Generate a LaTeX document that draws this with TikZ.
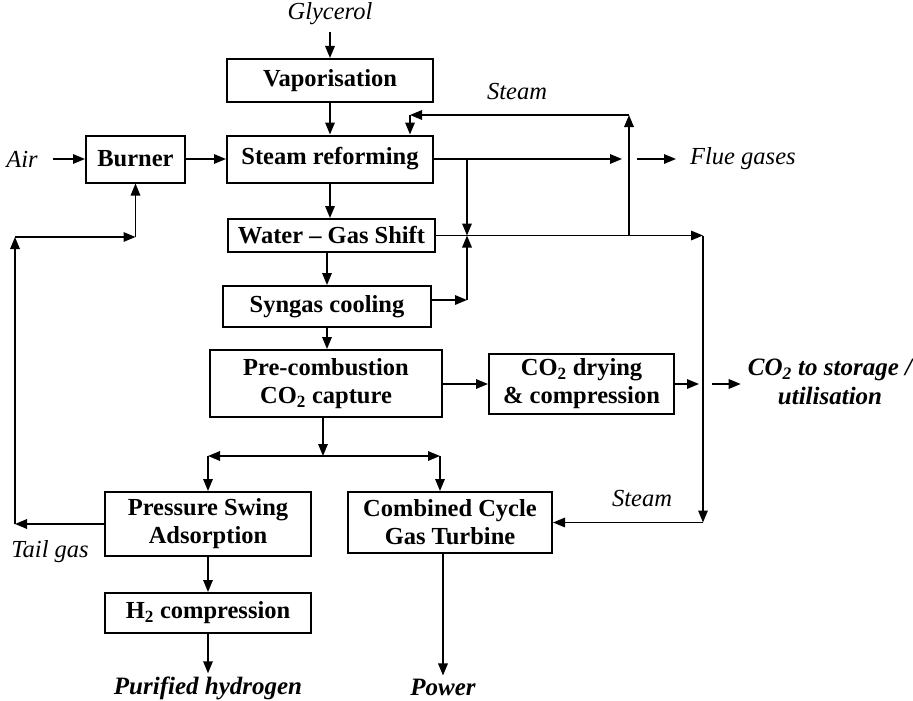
\documentclass[tikz,border=0pt]{standalone}
\usepackage{fontspec}
\setmainfont{Liberation Serif}
\usetikzlibrary{arrows.meta}

\begin{document}
\begin{tikzpicture}[x=1pt,y=-1pt]

        % 定义样式
        \tikzstyle{process} = [rectangle, draw=black, line width=2pt, text centered, align=center, inner sep=3pt, font=\fontsize{24.5}{28}\selectfont\bfseries]
        \tikzstyle{stream} = [inner sep=3pt, font=\fontsize{24.5}{28}\selectfont\itshape]
        \tikzstyle{product} = [inner sep=3pt, align=center, font=\fontsize{25}{29}\selectfont\bfseries\itshape]
        \tikzstyle{arrow} = [line width=1.6pt,->,>={Triangle[length=12pt,width=9.5pt]}]

        \useasboundingbox (0,0) rectangle (913,701);

        % 创建节点
        \node (vap) [process, minimum width=206pt, minimum height=43pt] at (330,80.5) {Vaporisation};
        \node (reform) [process, minimum width=206pt, minimum height=47pt] at (330,159) {Steam reforming};
        \node (burner) [process, minimum width=99pt, minimum height=47pt] at (135.5,159) {Burner};
        \node (wgs) [process, minimum width=207pt, minimum height=33pt] at (331.5,235.5) {Water -- Gas Shift};
        \node (syngas) [process, minimum width=208pt, minimum height=41pt] at (327,306.5) {Syngas cooling};
        \node (capture) [process, minimum width=232pt, minimum height=67pt] at (326,383.5) {Pre-combustion\\CO\textsubscript{2} capture};
        \node (drying) [process, minimum width=185pt, minimum height=60pt] at (581.5,384) {CO\textsubscript{2} drying\\\& compression};
        \node (psa) [process, minimum width=206pt, minimum height=64pt] at (208,524) {Pressure Swing\\Adsorption};
        \node (comp) [process, minimum width=206pt, minimum height=40pt] at (208,613) {H\textsubscript{2} compression};
        \node (ccgt) [process, minimum width=204pt, minimum height=61pt] at (450,522.5) {Combined Cycle\\Gas Turbine};

        % 物流标签
        \node (glycerol) [stream] at (330,14) {Glycerol};
        \node (air) [stream] at (22,159) {Air};
        \node (steamtop) [stream] at (517,92) {Steam};
        \node (flue) [stream, anchor=west] at (687,159) {Flue gases};
        \node (steamccgt) [stream] at (642,499) {Steam};
        \node (tailgas) [stream] at (50,552) {Tail gas};
        \node (storage) [product] at (830,382) {CO\textsubscript{2} to storage /\\utilisation};
        \node (hydrogen) [product] at (208,688) {Purified hydrogen};
        \node (power) [product] at (443,687) {Power};

        % 管线拐点
        \coordinate (s0) at (629,235.5);
        \coordinate (s1) at (629,115);
        \coordinate (s2) at (410,115);
        \coordinate (f1) at (622,159);
        \coordinate (f2) at (637,159);
        \coordinate (b1) at (467,159);
        \coordinate (b2) at (467,235.5);
        \coordinate (c1) at (467,300);
        \coordinate (w1) at (703,235.5);
        \coordinate (w2) at (703,522.5);
        \coordinate (e1) at (699,384);
        \coordinate (e2) at (712,384);
        \coordinate (sp) at (323,456);
        \coordinate (spl) at (208,456);
        \coordinate (spr) at (440,456);
        \coordinate (t1) at (15,524);
        \coordinate (t2) at (15,237);
        \coordinate (t3) at (135.5,237);

        % 连接节点
        \draw [arrow, shorten <=4pt] (glycerol.south) -- (vap.north);
        \draw [arrow] (vap) -- (reform);
        \draw [arrow] ([xshift=12pt]air.east) -- (burner.west);
        \draw [arrow] (burner) -- (reform);
        \draw [arrow] (reform) -- (reform |- wgs.north);
        \draw [arrow] (syngas.north |- wgs.south) -- (syngas.north);
        \draw [arrow] (syngas.south -| syngas.north) -- (syngas.south |- capture.north);

        % 蒸汽回路
        \draw [arrow] (s0) -- (s1);
        \draw [arrow] (s1) -- (s2);
        \draw [arrow] (s2) -- (s2 |- reform.north);

        % 烟气
        \draw [arrow] (reform.east) -- (f1);
        \draw [arrow] (f2) -- ([xshift=-11pt]flue.west);
        \draw [arrow] (b1) -- (b2);
        \draw [arrow] (syngas.east |- c1) -- (c1);
        \draw [arrow] (c1) -- (b2);

        % 变换气去联合循环
        \draw [arrow] (wgs.east) -- (w1);
        \draw [arrow] (w1) -- (w2);
        \draw [arrow] (w2) -- (ccgt.east);

        % CO2 去向
        \draw [arrow] (capture.east |- drying.west) -- (drying.west);
        \draw [arrow] (drying.east) -- (e1);
        \draw [arrow, shorten >=4pt] (e2) -- (e2 -| storage.west);

        % 分流
        \draw [arrow] (sp |- capture.south) -- (sp);
        \draw [arrow] (sp) -- (spl);
        \draw [arrow] (sp) -- (spr);
        \draw [arrow] (spl) -- (psa.north);
        \draw [arrow] (spr) -- (spr |- ccgt.north);

        % 尾气回烧嘴
        \draw [arrow] (psa.west) -- (t1);
        \draw [arrow] (t1) -- (t2);
        \draw [arrow] (t2) -- (t3);
        \draw [arrow] (t3) -- (burner.south);

        % 产品
        \draw [arrow] (psa) -- (comp);
        \draw [arrow] (comp) -- (hydrogen);
        \draw [arrow] (power.north |- ccgt.south) -- (power);

    \end{tikzpicture}
\end{document}
